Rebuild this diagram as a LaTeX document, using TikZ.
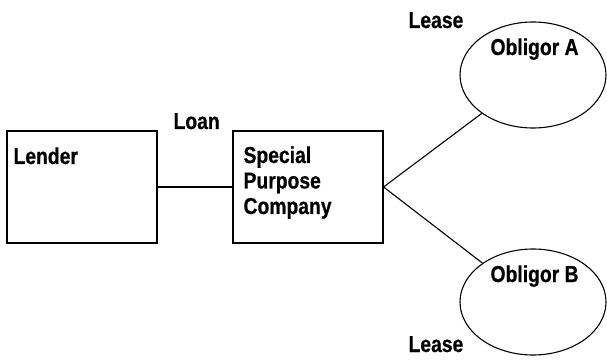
\documentclass[tikz,border=0pt]{standalone}
\usepackage{fontspec}
\setmainfont{Liberation Sans}[BoldFeatures={FakeStretch=0.84,FakeBold=0.6}]
\usetikzlibrary{shapes.geometric}
\begin{document}
\begin{tikzpicture}[x=1pt,y=-1pt,line width=1.1pt,
  lbl/.style={inner sep=0pt,anchor=base west,font=\fontsize{23}{25.5}\selectfont\bfseries,align=left},
  boxnode/.style={draw,minimum width=150pt,minimum height=112pt,inner sep=0pt},
  ell/.style={draw,ellipse,minimum width=146pt,minimum height=106pt,inner sep=0pt}]
\useasboundingbox (0,0) rectangle (607,363);
\node[boxnode] (lender) at (82,187) {};
\node[boxnode] (spc) at (308,187) {};
\node[ell] (oa) at (533,75) {};
\node[ell] (ob) at (533,302) {};
\node[lbl] (tlender) at (13,164) {Lender};
\node[lbl] (tspc1) at (243,163) {Special};
\node[lbl] (tspc2) at (243,188.5) {Purpose};
\node[lbl] (tspc3) at (243,214) {Company};
\node[lbl] (tloan) at (173,129) {Loan};
\node[lbl] (toa) at (490,55) {Obligor A};
\node[lbl] (tob) at (490,282) {Obligor B};
\node[lbl] (lease1) at (408,28) {Lease};
\node[lbl] (lease2) at (408,352) {Lease};
\draw (lender.east) -- (spc.west);
\draw (spc.east) -- (oa);
\draw (spc.east) -- (ob);
\end{tikzpicture}
\end{document}
